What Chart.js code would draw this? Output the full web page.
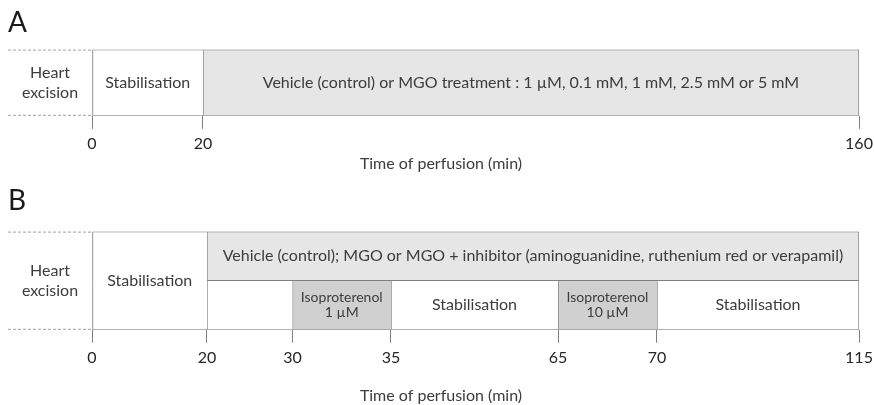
<!DOCTYPE html>
<html>
<head>
<meta charset="utf-8">
<script src="https://cdn.jsdelivr.net/npm/chart.js@4.4.1/dist/chart.umd.min.js"></script>
<style>
  html, body { margin: 0; padding: 0; background: #fff; }
  #wrap { width: 874px; height: 405px; }
  canvas { display: block; }
</style>
</head>
<body>
<div id="wrap">
  <canvas id="chartA" width="874" height="180"></canvas>
  <canvas id="chartB" width="874" height="225"></canvas>
</div>
<script>
// protocol A
const ticksA = [0, 20, 160];
const rowsA = ['perfusion'];
const phaseA = ['Stabilisation', 'Vehicle (control) or MGO treatment : 1 µM, 0.1 mM, 1 mM, 2.5 mM or 5 mM'];
const startA = [0, 20];
const endA = [20, 160];
const rowA = ['both', 'both'];
const kindA = ['stab', 'treat'];

// protocol B
const ticksB = [0, 20, 30, 35, 65, 70, 115];
const rowsB = ['treatment', 'challenge'];
const phaseB = ['Stabilisation',
  'Vehicle (control); MGO or MGO + inhibitor (aminoguanidine, ruthenium red or verapamil)',
  '', ['Isoproterenol', '1 µM'], 'Stabilisation', ['Isoproterenol', '10 µM'], 'Stabilisation'];
const startB = [0, 20, 20, 30, 35, 65, 70];
const endB = [20, 115, 30, 35, 65, 70, 115];
const rowB = ['both', 'treatment', 'challenge', 'challenge', 'challenge', 'challenge', 'challenge'];
const kindB = ['stab', 'treat', 'stab', 'iso', 'stab', 'iso', 'stab'];

const sideLabel = ['Heart', 'excision'];
const axisTitle = 'Time of perfusion (min)';

// look
const fills = { stab: '#ffffff', treat: '#e6e6e6', iso: '#d0d0d0' };
const textSize = { stab: 16, treat: 16, iso: 14 };
const lineCol = '#7f7f7f';
const textCol = '#3c3c3c';
Chart.defaults.font.family = 'Lato';
Chart.defaults.color = textCol;

// linear scale with a schematic (non proportional) layout between the time marks
class SchematicScale extends Chart.LinearScale {
  static id = 'schematic';
  static defaults = {};
  toDecimal(v) {
    const xs = this.options.knots, fs = this.options.fractions;
    if (v <= xs[0]) return fs[0];
    for (let i = 1; i < xs.length; i++) {
      if (v <= xs[i]) return fs[i - 1] + (v - xs[i - 1]) / (xs[i] - xs[i - 1]) * (fs[i] - fs[i - 1]);
    }
    return fs[fs.length - 1];
  }
  getPixelForValue(v) {
    if (v === null || isNaN(v)) return NaN;
    return this.getPixelForDecimal(this.toDecimal(v));
  }
  getValueForPixel(px) {
    const d = this.getDecimalForPixel(px);
    const xs = this.options.knots, fs = this.options.fractions;
    for (let i = 1; i < xs.length; i++) {
      if (d <= fs[i]) return xs[i - 1] + (d - fs[i - 1]) / (fs[i] - fs[i - 1]) * (xs[i] - xs[i - 1]);
    }
    return xs[xs.length - 1];
  }
}
Chart.register(SchematicScale);

function makeSets(rows, phase, start, end, row, kind, max) {
  return phase.map((name, i) => ({
    text: name,
    kind: kind[i],
    data: rows.map(r => (row[i] === 'both' || row[i] === r) ? [start[i], end[i]] : null),
    backgroundColor: fills[kind[i]],
    borderColor: lineCol,
    borderSkipped: false,
    borderWidth: (ctx) => ({
      left: 1,
      right: end[i] === max ? 1 : 0,
      top: ctx.dataIndex === 0 ? 1 : 0,
      bottom: (ctx.dataIndex === rows.length - 1 || row[i] !== 'both') ? 1 : 0
    }),
    grouped: false,
    barPercentage: 1,
    categoryPercentage: 1
  }));
}

// texts inside the boxes + the "Heart excision" part on the left
const annotate = {
  id: 'annotate',
  afterDatasetsDraw(chart) {
    const { ctx, chartArea } = chart;
    ctx.save();
    ctx.fillStyle = textCol;
    ctx.textAlign = 'center';
    ctx.textBaseline = 'middle';
    chart.data.datasets.forEach((ds, i) => {
      const bars = chart.getDatasetMeta(i).data.filter((b, j) => ds.data[j] !== null);
      if (!bars.length || !ds.text) return;
      const x = (bars[0].x + bars[0].base) / 2;
      const y = bars.reduce((s, b) => s + b.y, 0) / bars.length;
      const lines = [].concat(ds.text);
      const size = textSize[ds.kind];
      const lh = size * 1.05;
      ctx.font = size + 'px Lato';
      lines.forEach((t, k) => ctx.fillText(t, x, y + (k - (lines.length - 1) / 2) * lh));
    });

    const left = chart.scales.y.left;
    ctx.strokeStyle = '#a0a0a0';
    ctx.lineWidth = 1;
    ctx.setLineDash([3, 2]);
    [chartArea.top + 0.5, chartArea.bottom - 0.5].forEach(y => {
      ctx.beginPath();
      ctx.moveTo(left, y);
      ctx.lineTo(chartArea.left, y);
      ctx.stroke();
    });
    ctx.font = '16px Lato';
    const cx = (left + chartArea.left) / 2;
    const cy = (chartArea.top + chartArea.bottom) / 2;
    sideLabel.forEach((t, k) => ctx.fillText(t, cx, cy + (k - (sideLabel.length - 1) / 2) * 20));
    ctx.restore();
  }
};

function makeChart(id, panel, rows, ticks, fractions, sets, pad, titleGap, axisH) {
  return new Chart(document.getElementById(id), {
    type: 'bar',
    data: { labels: rows, datasets: sets },
    options: {
      indexAxis: 'y',
      responsive: false,
      animation: false,
      events: [],
      layout: { padding: { left: 8, right: 0, top: pad[0], bottom: pad[1] } },
      scales: {
        x: {
          type: 'schematic',
          min: ticks[0],
          max: ticks[ticks.length - 1],
          knots: ticks,
          fractions: fractions,
          afterBuildTicks: s => { s.ticks = ticks.map(v => ({ value: v })); },
          afterFit: s => { s.height = axisH; s.paddingRight = 15; },
          grid: { drawOnChartArea: false, drawTicks: true, tickLength: 13, color: lineCol },
          border: { display: false },
          ticks: { autoSkip: false, maxRotation: 0, padding: 5, color: '#262626',
                   font: { size: 16 }, callback: v => String(v) }
        },
        y: {
          type: 'category',
          offset: true,
          afterFit: s => { s.width = 84; },
          grid: { display: false },
          border: { display: false },
          ticks: { display: false }
        }
      },
      plugins: {
        legend: { display: false },
        tooltip: { enabled: false },
        title: {
          display: true, text: panel, align: 'start', color: '#1a1a1a',
          font: { size: 28, weight: 'normal', lineHeight: 1.2 },
          padding: { top: 0, bottom: titleGap }
        },
        subtitle: {
          display: true, text: axisTitle, position: 'bottom', color: textCol,
          font: { size: 16, lineHeight: 1.2 },
          padding: { top: 4, bottom: 0 }
        }
      }
    },
    plugins: [annotate]
  });
}

makeChart('chartA', 'A', rowsA, ticksA, [0, 0.1447, 1],
  makeSets(rowsA, phaseA, startA, endA, rowA, kindA, 160), [6, 7], 10, 34);
makeChart('chartB', 'B', rowsB, ticksB, [0, 0.1499, 0.2614, 0.3898, 0.6076, 0.7366, 1],
  makeSets(rowsB, phaseB, startB, endB, rowB, kindB, 115), [4, 0], 14, 52);
</script>
</body>
</html>
